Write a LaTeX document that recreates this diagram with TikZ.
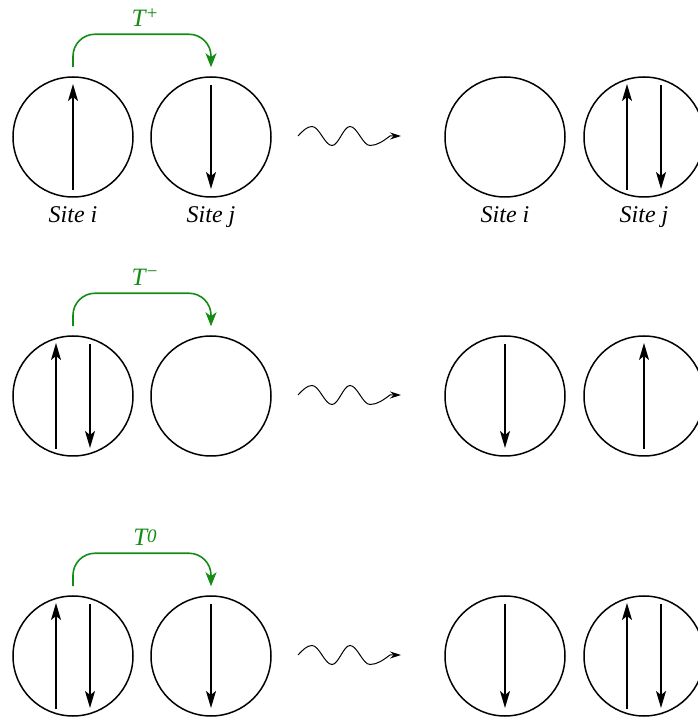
\documentclass[tikz,border=0pt]{standalone}
\usepackage{fontspec}
\setmainfont{Liberation Serif}
\usetikzlibrary{arrows.meta}
\definecolor{hopgreen}{RGB}{20,140,20}
\tikzset{
  site/.style={circle, draw, line width=1.5pt, minimum size=120pt, inner sep=0pt},
  spin/.style={line width=1.6pt, -{Stealth[length=17pt,width=10pt,inset=4pt]}},
  hop/.style={hopgreen, line width=1.6pt, rounded corners=22pt, -{Stealth[length=14pt,width=11pt,inset=4pt]}},
  flow/.style={line width=1pt, -{Stealth[length=11pt,width=7pt]}},
  lbl/.style={font=\fontsize{24}{28}\selectfont\itshape}
}
\newcommand{\spinup}[2][0]{\draw[spin] ([xshift=#1pt,yshift=-53pt]#2.center) -- ([xshift=#1pt,yshift=53pt]#2.center);}
\newcommand{\spindown}[2][0]{\draw[spin] ([xshift=#1pt,yshift=52pt]#2.center) -- ([xshift=#1pt,yshift=-52pt]#2.center);}
\newcommand{\spinpair}[1]{\spinup[-17]{#1}\spindown[17]{#1}}
\newcommand{\hopsup}[2]{\raisebox{#2pt}{\fontsize{19}{21}\selectfont #1}}
\begin{document}
\begin{tikzpicture}[x=1pt,y=1pt]
    \useasboundingbox (0,0) rectangle (697,718);
    % sites, hopping arrow and evolution arrow of each row
    \foreach \r/\y/\t/\h in {1/581/+/6.5, 2/322/\char"2212/8, 3/62/0/3} {
        \foreach \c/\x in {a/73, b/211, c/505, d/644} {\node[site] (s\r\c) at (\x,\y) {};}
        \coordinate (w\r) at (298,\y+1);
        \coordinate (e\r) at (401,\y+1);
        \draw[flow] (w\r) sin ++(14,9.5) cos ++(10,-9.5) sin ++(10,-9.5) cos ++(9,9.5) sin ++(9,9.5) cos ++(10,-9.5) sin ++(10,-9.5) cos ++(20,9.5) -- (e\r);
        \draw[hop] ([yshift=9pt]s\r a.north) -- ++(0,33) -| node[pos=0.25, lbl, hopgreen, font=\fontsize{25}{28}\selectfont\itshape, anchor=base, xshift=3pt, yshift=8pt] (t\r) {T\hopsup{\t}{\h}} ([yshift=9pt]s\r b.north);
    }
    % spins
    \spinup{s1a} \spindown{s1b} \spinpair{s1d}
    \spinpair{s2a} \spindown{s2c} \spinup{s2d}
    \spinpair{s3a} \spindown{s3b} \spindown{s3c} \spinpair{s3d}
    % labels
    \foreach \c/\n in {a/i, b/j, c/i, d/j} {\node[lbl, anchor=base] (l\c) at ([yshift=-86pt]s1\c.center) {Site \n};}
\end{tikzpicture}
\end{document}
